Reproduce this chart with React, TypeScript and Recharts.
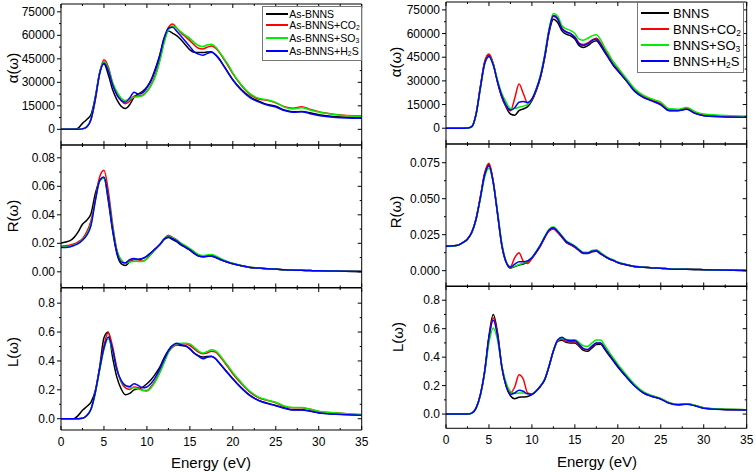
import React from 'react';
import { LineChart, Line, XAxis, YAxis } from 'recharts';

const FONT = '"Liberation Sans", Arial, Helvetica, sans-serif';
const COLORS = ['#000000', '#ff0000', '#00ee00', '#0000ff'];
const KEYS = ['s0', 's1', 's2', 's3'];

// photon energy grid (eV)
const ENERGY = [
  0, 1, 1.5, 2, 2.5, 3, 3.5, 4, 4.5, 5,
  5.5, 6, 6.5, 7, 7.5, 8, 8.5, 9, 9.5, 10,
  10.5, 11, 11.5, 12, 12.5, 13, 13.5, 14, 14.5, 15,
  15.5, 16, 16.5, 17, 17.5, 18, 18.5, 19, 19.5, 20,
  21, 22, 23, 24, 25, 26, 27, 28, 29, 30, 32, 35,
];

// ---- As-BNNS column: absorption α(ω)
const AS_ALPHA_BNNS = [
  0, 0, 0, 800, 3800, 6300, 9500, 21000, 36000, 41800,
  35000, 25400, 19000, 14800, 13300, 15800, 20500, 22600, 24300, 27000,
  31700, 39000, 47500, 58100, 62700, 61300, 59600, 57000, 53900, 50700,
  49200, 49000, 49000, 49300, 49600, 47500, 44400, 40100, 35900, 31700,
  25400, 20700, 18000, 15800, 14800, 12300, 11200, 11400, 10600, 9300, 8000, 7400,
];
const AS_ALPHA_CO2 = [
  0, 0, 0, 0, 300, 1500, 6300, 19000, 36000, 44400,
  40000, 29600, 22600, 18400, 16300, 18000, 21100, 21300, 21800, 24300,
  28500, 34900, 44400, 56000, 65000, 67200, 64400, 61300, 59200, 56600,
  53900, 51800, 51300, 52400, 53200, 51800, 48600, 44400, 40100, 35500,
  27900, 22200, 19400, 18600, 16900, 14400, 13500, 14400, 12700, 11200, 9500, 8500,
];
const AS_ALPHA_SO3 = [
  0, 0, 0, 0, 300, 1800, 7000, 20000, 36000, 43300,
  39000, 30000, 24000, 20000, 18400, 19500, 20500, 20800, 21500, 24000,
  28000, 34000, 43500, 55000, 63500, 65900, 64500, 62000, 60000, 58100,
  55500, 53500, 52800, 53800, 54300, 52500, 49000, 45000, 41000, 36000,
  28500, 22800, 19800, 18800, 17200, 14200, 13000, 13800, 12400, 11000, 9300, 8200,
];
const AS_ALPHA_H2S = [
  0, 0, 0, 0, 300, 1500, 6500, 19500, 35500, 42300,
  37500, 28500, 22000, 18500, 17300, 20000, 23700, 22600, 23300, 26500,
  31000, 38000, 47000, 58100, 64500, 65100, 62500, 59300, 56000, 52800,
  49500, 48000, 47300, 48300, 49200, 47500, 44000, 40000, 35500, 31500,
  25000, 20300, 17500, 15500, 14300, 12000, 10900, 11300, 10000, 8800, 7600, 7000,
];

// ---- BNNS column: absorption α(ω)
const BN_ALPHA_BNNS = [
  0, 0, 0, 0, 100, 1000, 9000, 26000, 41700, 46600,
  40700, 29100, 19600, 13300, 9000, 8200, 11200, 12200, 13700, 17500,
  23800, 32200, 44900, 60700, 69100, 67000, 61700, 59600, 58600, 56500,
  52300, 51200, 52300, 54400, 55400, 52300, 48000, 43800, 39600, 36500,
  30100, 23400, 19600, 17500, 15000, 11200, 11200, 12200, 9500, 8000, 7400, 7000,
];
const BN_ALPHA_CO2 = [
  0, 0, 0, 0, 100, 1000, 9200, 26500, 42200, 47000,
  41000, 29500, 20000, 14000, 11000, 19000, 28000, 22000, 16000, 18000,
  24300, 32800, 45800, 62000, 71000, 69000, 63500, 61000, 60000, 58000,
  54000, 53000, 54000, 56000, 57000, 54000, 49500, 45000, 40800, 37500,
  31000, 24200, 20300, 18000, 15600, 11800, 11700, 12800, 10000, 8400, 7800, 7500,
];
const BN_ALPHA_SO3 = [
  0, 0, 0, 0, 100, 900, 8500, 25000, 40500, 45500,
  40500, 30500, 22000, 16500, 12500, 12500, 13300, 14000, 15000, 18500,
  25000, 34000, 47000, 63000, 72700, 71000, 65000, 63000, 62000, 60000,
  56500, 55800, 57000, 58500, 59200, 56000, 51000, 46500, 42000, 38500,
  31500, 24800, 20800, 18500, 16500, 12300, 12000, 13200, 10500, 9000, 8200, 7500,
];
const BN_ALPHA_H2S = [
  0, 0, 0, 0, 100, 950, 8800, 25500, 41000, 45500,
  40000, 29500, 20500, 14500, 11500, 13000, 16500, 16900, 16300, 18500,
  24500, 33000, 46000, 62000, 71500, 69500, 63000, 61000, 60000, 57500,
  53500, 52500, 53500, 55500, 56500, 53000, 48500, 44000, 39800, 36500,
  30000, 23200, 19400, 17200, 14800, 11000, 11000, 12000, 9400, 7900, 7300, 6900,
];

// ---- As-BNNS column: reflectivity R(ω)
const AS_REFL_BNNS = [
  0.0203, 0.0217, 0.024, 0.028, 0.0334, 0.0362, 0.041, 0.055, 0.064, 0.066,
  0.05, 0.029, 0.0128, 0.0058, 0.0045, 0.007, 0.0086, 0.0086, 0.0093, 0.011,
  0.0135, 0.0163, 0.019, 0.0226, 0.024, 0.0226, 0.021, 0.0187, 0.017, 0.0152,
  0.0128, 0.011, 0.0105, 0.0108, 0.011, 0.01, 0.0086, 0.0075, 0.0065, 0.0056,
  0.0042, 0.003, 0.0026, 0.0021, 0.0019, 0.0014, 0.0012, 0.0011, 0.0009, 0.0007, 0.0005, 0.0003,
];
const AS_REFL_CO2 = [
  0.018, 0.0187, 0.0195, 0.021, 0.0233, 0.028, 0.036, 0.0513, 0.0665, 0.0712,
  0.057, 0.0338, 0.0152, 0.0082, 0.0058, 0.0075, 0.0089, 0.0085, 0.0075, 0.0093,
  0.0125, 0.0158, 0.019, 0.023, 0.0257, 0.024, 0.0222, 0.0198, 0.018, 0.016,
  0.0138, 0.0117, 0.011, 0.0112, 0.0114, 0.0105, 0.009, 0.0078, 0.0068, 0.0058,
  0.0044, 0.0032, 0.0027, 0.0022, 0.0019, 0.0015, 0.0012, 0.0011, 0.0009, 0.0007, 0.0005, 0.0003,
];
const AS_REFL_SO3 = [
  0.0175, 0.018, 0.0188, 0.0202, 0.0225, 0.0265, 0.034, 0.05, 0.0635, 0.066,
  0.053, 0.032, 0.015, 0.0085, 0.006, 0.0068, 0.0075, 0.0072, 0.0072, 0.0092,
  0.0125, 0.016, 0.0193, 0.0232, 0.025, 0.0238, 0.0222, 0.02, 0.0183, 0.0163,
  0.0142, 0.0122, 0.0115, 0.0118, 0.0121, 0.0112, 0.0096, 0.0082, 0.007, 0.006,
  0.0045, 0.0032, 0.0027, 0.0022, 0.0019, 0.0015, 0.0012, 0.0011, 0.0009, 0.0007, 0.0005, 0.0003,
];
const AS_REFL_H2S = [
  0.017, 0.0175, 0.0185, 0.0198, 0.0222, 0.0257, 0.0327, 0.05, 0.064, 0.0665,
  0.0525, 0.0303, 0.014, 0.007, 0.0063, 0.0086, 0.0093, 0.0088, 0.0093, 0.011,
  0.0135, 0.0163, 0.0192, 0.023, 0.0245, 0.0232, 0.0215, 0.0192, 0.0174, 0.0155,
  0.0132, 0.0112, 0.0106, 0.0109, 0.0111, 0.0102, 0.0088, 0.0076, 0.0066, 0.0057,
  0.0043, 0.0031, 0.0026, 0.0021, 0.0019, 0.0014, 0.0012, 0.0011, 0.0009, 0.0007, 0.0005, 0.0003,
];

// ---- BNNS column: reflectivity R(ω)
const BN_REFL_BNNS = [
  0.017, 0.0174, 0.018, 0.0197, 0.022, 0.0267, 0.036, 0.051, 0.0673, 0.0738,
  0.0615, 0.0395, 0.0174, 0.0058, 0.0018, 0.0028, 0.004, 0.0046, 0.0063, 0.0088,
  0.0128, 0.0174, 0.0232, 0.0279, 0.0293, 0.0267, 0.0232, 0.0197, 0.018, 0.0163,
  0.0139, 0.012, 0.012, 0.0132, 0.0135, 0.0116, 0.0098, 0.0081, 0.007, 0.0056,
  0.004, 0.0028, 0.0023, 0.0019, 0.0017, 0.0012, 0.001, 0.0009, 0.0008, 0.0007, 0.0005, 0.0002,
];
const BN_REFL_CO2 = [
  0.017, 0.0174, 0.018, 0.0197, 0.022, 0.0268, 0.0362, 0.0513, 0.0678, 0.0746,
  0.062, 0.0398, 0.0176, 0.006, 0.0028, 0.009, 0.0125, 0.0065, 0.005, 0.0085,
  0.0126, 0.0172, 0.023, 0.0276, 0.029, 0.0265, 0.0232, 0.0198, 0.0181, 0.0164,
  0.014, 0.0121, 0.0121, 0.0133, 0.0136, 0.0117, 0.0099, 0.0082, 0.007, 0.0057,
  0.0041, 0.0028, 0.0023, 0.0019, 0.0017, 0.0012, 0.001, 0.0009, 0.0008, 0.0007, 0.0005, 0.0002,
];
const BN_REFL_SO3 = [
  0.0168, 0.0172, 0.0178, 0.0195, 0.0218, 0.0262, 0.0352, 0.0498, 0.065, 0.0712,
  0.061, 0.041, 0.019, 0.0065, 0.0023, 0.003, 0.0042, 0.0052, 0.0068, 0.0093,
  0.0135, 0.0182, 0.024, 0.0288, 0.0305, 0.0278, 0.0243, 0.0208, 0.019, 0.0172,
  0.0148, 0.0128, 0.0128, 0.014, 0.0146, 0.0125, 0.0105, 0.0087, 0.0074, 0.006,
  0.0043, 0.003, 0.0024, 0.002, 0.0018, 0.0013, 0.0011, 0.001, 0.0008, 0.0007, 0.0005, 0.0002,
];
const BN_REFL_H2S = [
  0.0169, 0.0173, 0.0179, 0.0196, 0.0219, 0.0265, 0.0357, 0.0505, 0.0665, 0.0728,
  0.0612, 0.0398, 0.018, 0.006, 0.0023, 0.0045, 0.0062, 0.0062, 0.0068, 0.009,
  0.013, 0.0177, 0.0235, 0.0283, 0.0298, 0.0272, 0.0237, 0.0202, 0.0185, 0.0167,
  0.0143, 0.0123, 0.0123, 0.0135, 0.0139, 0.0119, 0.01, 0.0083, 0.0071, 0.0057,
  0.0041, 0.0029, 0.0023, 0.0019, 0.0017, 0.0012, 0.001, 0.0009, 0.0008, 0.0007, 0.0005, 0.0002,
];

// ---- As-BNNS column: energy loss L(ω)
const AS_LOSS_BNNS = [
  0, 0, 0, 0.023, 0.058, 0.085, 0.115, 0.196, 0.357, 0.56,
  0.6, 0.427, 0.288, 0.207, 0.166, 0.175, 0.2, 0.207, 0.219, 0.242,
  0.272, 0.311, 0.357, 0.422, 0.473, 0.505, 0.512, 0.507, 0.503, 0.484,
  0.454, 0.436, 0.427, 0.431, 0.433, 0.415, 0.38, 0.346, 0.311, 0.277,
  0.214, 0.161, 0.127, 0.108, 0.092, 0.074, 0.062, 0.062, 0.053, 0.041, 0.032, 0.025,
];
const AS_LOSS_CO2 = [
  0, 0, 0, 0, 0.003, 0.023, 0.069, 0.184, 0.346, 0.507,
  0.595, 0.5, 0.353, 0.254, 0.214, 0.203, 0.219, 0.214, 0.198, 0.196,
  0.224, 0.265, 0.323, 0.392, 0.461, 0.496, 0.512, 0.519, 0.519, 0.507,
  0.484, 0.461, 0.45, 0.455, 0.468, 0.461, 0.431, 0.392, 0.353, 0.311,
  0.242, 0.184, 0.145, 0.127, 0.111, 0.085, 0.076, 0.076, 0.065, 0.051, 0.039, 0.028,
];
const AS_LOSS_SO3 = [
  0, 0, 0, 0, 0.003, 0.02, 0.065, 0.18, 0.335, 0.48,
  0.553, 0.47, 0.34, 0.26, 0.23, 0.215, 0.215, 0.205, 0.195, 0.191,
  0.215, 0.258, 0.318, 0.39, 0.46, 0.5, 0.518, 0.523, 0.523, 0.518,
  0.495, 0.47, 0.455, 0.465, 0.477, 0.47, 0.44, 0.4, 0.362, 0.32,
  0.25, 0.19, 0.15, 0.13, 0.114, 0.088, 0.077, 0.077, 0.066, 0.052, 0.04, 0.029,
];
const AS_LOSS_H2S = [
  0, 0, 0, 0, 0.003, 0.022, 0.068, 0.185, 0.345, 0.49,
  0.565, 0.48, 0.34, 0.265, 0.23, 0.223, 0.242, 0.23, 0.214, 0.22,
  0.245, 0.288, 0.345, 0.41, 0.47, 0.508, 0.523, 0.512, 0.505, 0.484,
  0.455, 0.433, 0.415, 0.425, 0.431, 0.415, 0.38, 0.345, 0.31, 0.275,
  0.212, 0.16, 0.126, 0.106, 0.09, 0.072, 0.06, 0.061, 0.052, 0.04, 0.031, 0.024,
];

// ---- BNNS column: energy loss L(ω)
const BN_LOSS_BNNS = [
  0, 0, 0, 0, 0, 0.007, 0.042, 0.136, 0.3, 0.547,
  0.699, 0.57, 0.335, 0.195, 0.129, 0.108, 0.118, 0.12, 0.124, 0.136,
  0.16, 0.195, 0.242, 0.335, 0.441, 0.511, 0.518, 0.504, 0.5, 0.5,
  0.476, 0.448, 0.441, 0.465, 0.488, 0.49, 0.453, 0.411, 0.371, 0.331,
  0.26, 0.195, 0.148, 0.124, 0.106, 0.077, 0.066, 0.07, 0.059, 0.042, 0.033, 0.03,
];
const BN_LOSS_CO2 = [
  0, 0, 0, 0, 0, 0.007, 0.042, 0.135, 0.295, 0.53,
  0.676, 0.56, 0.33, 0.2, 0.15, 0.19, 0.277, 0.245, 0.148, 0.141,
  0.163, 0.197, 0.245, 0.338, 0.443, 0.515, 0.525, 0.51, 0.51, 0.508,
  0.485, 0.458, 0.452, 0.475, 0.497, 0.497, 0.462, 0.42, 0.38, 0.34,
  0.268, 0.2, 0.152, 0.127, 0.108, 0.079, 0.068, 0.072, 0.061, 0.044, 0.034, 0.031,
];
const BN_LOSS_SO3 = [
  0, 0, 0, 0, 0, 0.006, 0.04, 0.13, 0.29, 0.5,
  0.605, 0.52, 0.34, 0.22, 0.16, 0.145, 0.148, 0.148, 0.142, 0.142,
  0.163, 0.198, 0.248, 0.34, 0.445, 0.515, 0.535, 0.525, 0.522, 0.523,
  0.503, 0.48, 0.476, 0.5, 0.52, 0.52, 0.48, 0.435, 0.392, 0.35,
  0.275, 0.205, 0.156, 0.13, 0.11, 0.08, 0.069, 0.073, 0.062, 0.045, 0.035, 0.031,
];
const BN_LOSS_H2S = [
  0, 0, 0, 0, 0, 0.007, 0.042, 0.135, 0.3, 0.54,
  0.66, 0.55, 0.33, 0.2, 0.14, 0.148, 0.168, 0.16, 0.142, 0.14,
  0.162, 0.197, 0.245, 0.338, 0.445, 0.52, 0.54, 0.52, 0.515, 0.517,
  0.49, 0.46, 0.453, 0.478, 0.5, 0.5, 0.46, 0.418, 0.376, 0.335,
  0.262, 0.196, 0.148, 0.124, 0.105, 0.076, 0.065, 0.069, 0.058, 0.041, 0.032, 0.029,
];

// ticks
const X_TICKS = [0, 2.5, 5, 7.5, 10, 12.5, 15, 17.5, 20, 22.5, 25, 27.5, 30, 32.5, 35];
const ALPHA_MAJOR = [0, 15000, 30000, 45000, 60000, 75000];
const ALPHA_MINOR = [7500, 22500, 37500, 52500, 67500];
const AS_R_MAJOR = [0, 0.02, 0.04, 0.06, 0.08];
const AS_R_MINOR = [0.01, 0.03, 0.05, 0.07];
const BN_R_MAJOR = [0, 0.025, 0.05, 0.075];
const BN_R_MINOR = [0.0125, 0.0375, 0.0625];
const L_MAJOR = [0, 0.2, 0.4, 0.6, 0.8];
const L_MINOR = [0.1, 0.3, 0.5, 0.7];

// legend labels: [text, subscript, tail]
const AS_LEGEND = [['As-BNNS'], ['As-BNNS+CO', '2'], ['As-BNNS+SO', '3'], ['As-BNNS+H', '2', 'S']];
const BN_LEGEND = [['BNNS'], ['BNNS+CO', '2'], ['BNNS+SO', '3'], ['BNNS+H', '2', 'S']];

const toRows = (s: number[][]) =>
  ENERGY.map((e, i) => ({ e, s0: s[0][i], s1: s[1][i], s2: s[2][i], s3: s[3][i] }));

type PanelProps = {
  x: number;
  y: number;
  w: number;
  h: number;
  series: number[][];
  domain: [number, number];
  major: number[];
  minor: number[];
  fmt: (v: number) => string;
  xLabels?: boolean;
};

function Panel({ x, y, w, h, series, domain, major, minor, fmt, xLabels }: PanelProps) {
  const m = { top: 6, right: 8, bottom: xLabels ? 24 : 6, left: 50 };
  const yTicks = [...major, ...minor].sort((a, b) => a - b);
  const isMajor = (v: number) => major.some((t) => Math.abs(t - v) < 1e-9);

  const bottomTick = (p: any) => {
    const v = p.payload.value;
    const big = v % 5 === 0;
    return (
      <g>
        <line x1={p.x} y1={p.y} x2={p.x} y2={p.y - (big ? 4 : 2)} stroke="#000" />
        {xLabels && big && (
          <text x={p.x} y={p.y + 12} textAnchor="middle" dominantBaseline="central"
            fontSize={12} fontFamily={FONT} fill="#000">{v}</text>
        )}
      </g>
    );
  };
  const topTick = (p: any) => {
    const big = p.payload.value % 5 === 0;
    return <line x1={p.x} y1={p.y} x2={p.x} y2={p.y + (big ? 4 : 2)} stroke="#000" />;
  };
  const leftTick = (p: any) => {
    const v = p.payload.value;
    const big = isMajor(v);
    return (
      <g>
        <line x1={p.x} y1={p.y} x2={p.x - (big ? 4 : 2)} y2={p.y} stroke="#000" />
        {big && (
          <text x={p.x - 6} y={p.y} textAnchor="end" dominantBaseline="central"
            fontSize={12} fontFamily={FONT} fill="#000">{fmt(v)}</text>
        )}
      </g>
    );
  };
  const rightTick = (p: any) => {
    const big = isMajor(p.payload.value);
    return <line x1={p.x} y1={p.y} x2={p.x - (big ? 4 : 2)} y2={p.y} stroke="#000" />;
  };

  return (
    <div style={{ position: 'absolute', left: x - m.left, top: y - m.top }}>
      <LineChart width={w + m.left + m.right} height={h + m.top + m.bottom} data={toRows(series)} margin={m}>
        <XAxis xAxisId="b" dataKey="e" type="number" domain={[0, 35]} ticks={X_TICKS} interval={0}
          orientation="bottom" mirror height={1} tickSize={0} tickMargin={0} allowDataOverflow
          stroke="#000" tick={bottomTick} />
        <XAxis xAxisId="t" dataKey="e" type="number" domain={[0, 35]} ticks={X_TICKS} interval={0}
          orientation="top" mirror height={1} tickSize={0} tickMargin={0} allowDataOverflow
          stroke="#000" tick={topTick} />
        <YAxis yAxisId="l" type="number" domain={domain} ticks={yTicks} interval={0}
          orientation="left" mirror width={1} tickSize={0} tickMargin={0} allowDataOverflow
          stroke="#000" tick={leftTick} />
        <YAxis yAxisId="r" type="number" domain={domain} ticks={yTicks} interval={0}
          orientation="right" mirror width={1} tickSize={0} tickMargin={0} allowDataOverflow
          stroke="#000" tick={rightTick} />
        {KEYS.map((k, i) => (
          <Line key={k} xAxisId="b" yAxisId="l" dataKey={k} type="monotone" stroke={COLORS[i]}
            strokeWidth={1.5} dot={false} isAnimationActive={false} />
        ))}
      </LineChart>
    </div>
  );
}

function VTitle({ x, y, text }: { x: number; y: number; text: string }) {
  return (
    <div style={{
      position: 'absolute', left: x, top: y, transform: 'translate(-50%, -50%) rotate(-90deg)',
      fontFamily: FONT, fontSize: 15, whiteSpace: 'nowrap', lineHeight: 1,
    }}>{text}</div>
  );
}

function HTitle({ x, y, text }: { x: number; y: number; text: string }) {
  return (
    <div style={{
      position: 'absolute', left: x, top: y, transform: 'translate(-50%, -50%)',
      fontFamily: FONT, fontSize: 15, whiteSpace: 'nowrap', lineHeight: 1,
    }}>{text}</div>
  );
}

type LegendProps = {
  x: number; y: number; w: number; h: number;
  rows: number[]; lineX: number; lineW: number; textX: number; fontSize: number;
  labels: string[][];
};

function LegendBox({ x, y, w, h, rows, lineX, lineW, textX, fontSize, labels }: LegendProps) {
  return (
    <div style={{ position: 'absolute', left: x, top: y, width: w, height: h, border: '1px solid #777', boxSizing: 'border-box', background: '#fff' }}>
      {labels.map((lab, i) => (
        <React.Fragment key={i}>
          <div style={{ position: 'absolute', left: lineX, top: rows[i] - 1, width: lineW, height: 2, background: COLORS[i] }} />
          <div style={{
            position: 'absolute', left: textX, top: rows[i], transform: 'translateY(-50%)',
            fontFamily: FONT, fontSize, lineHeight: 1, whiteSpace: 'nowrap',
          }}>
            {lab[0]}
            {lab[1] && <sub style={{ fontSize: '0.65em', verticalAlign: '-0.25em', lineHeight: 0 }}>{lab[1]}</sub>}
            {lab[2]}
          </div>
        </React.Fragment>
      ))}
    </div>
  );
}

export default function App() {
  const LX = 61, RX = 446.3, W = 300.7;
  return (
    <div style={{ position: 'absolute', left: 0, top: 0, width: 756, height: 472, background: '#fff', overflow: 'hidden' }}>
      {/* As-BNNS column */}
      <Panel x={LX} y={4} w={W} h={141} domain={[-10000, 80000]} major={ALPHA_MAJOR} minor={ALPHA_MINOR}
        fmt={(v) => String(v)} series={[AS_ALPHA_BNNS, AS_ALPHA_CO2, AS_ALPHA_SO3, AS_ALPHA_H2S]} />
      <Panel x={LX} y={145} w={W} h={142.5} domain={[-0.011, 0.089]} major={AS_R_MAJOR} minor={AS_R_MINOR}
        fmt={(v) => v.toFixed(2)} series={[AS_REFL_BNNS, AS_REFL_CO2, AS_REFL_SO3, AS_REFL_H2S]} />
      <Panel x={LX} y={287.5} w={W} h={142} domain={[-0.078, 0.905]} major={L_MAJOR} minor={L_MINOR}
        fmt={(v) => v.toFixed(1)} xLabels series={[AS_LOSS_BNNS, AS_LOSS_CO2, AS_LOSS_SO3, AS_LOSS_H2S]} />

      {/* BNNS column */}
      <Panel x={RX} y={1.5} w={W} h={142} domain={[-10000, 80000]} major={ALPHA_MAJOR} minor={ALPHA_MINOR}
        fmt={(v) => String(v)} series={[BN_ALPHA_BNNS, BN_ALPHA_CO2, BN_ALPHA_SO3, BN_ALPHA_H2S]} />
      <Panel x={RX} y={143.5} w={W} h={142.5} domain={[-0.011, 0.088]} major={BN_R_MAJOR} minor={BN_R_MINOR}
        fmt={(v) => v.toFixed(3)} series={[BN_REFL_BNNS, BN_REFL_CO2, BN_REFL_SO3, BN_REFL_H2S]} />
      <Panel x={RX} y={286} w={W} h={142.3} domain={[-0.1, 0.9]} major={L_MAJOR} minor={L_MINOR}
        fmt={(v) => v.toFixed(1)} xLabels series={[BN_LOSS_BNNS, BN_LOSS_CO2, BN_LOSS_SO3, BN_LOSS_H2S]} />

      <VTitle x={12} y={68} text="α(ω)" />
      <VTitle x={12} y={216} text="R(ω)" />
      <VTitle x={12} y={352} text="L(ω)" />
      <VTitle x={395} y={62} text="α(ω)" />
      <VTitle x={395} y={212} text="R(ω)" />
      <VTitle x={397} y={337} text="L(ω)" />
      <HTitle x={211} y={462} text="Energy (eV)" />
      <HTitle x={597} y={461} text="Energy (eV)" />

      <LegendBox x={261.7} y={5.5} w={100} h={55.5} rows={[7.2, 18.7, 31, 44]} lineX={3} lineW={22} textX={26.5}
        fontSize={10.5} labels={AS_LEGEND} />
      <LegendBox x={637} y={1.5} w={107} h={71} rows={[10.5, 26.5, 42.5, 58.5]} lineX={3} lineW={28} textX={35}
        fontSize={13} labels={BN_LEGEND} />
    </div>
  );
}
